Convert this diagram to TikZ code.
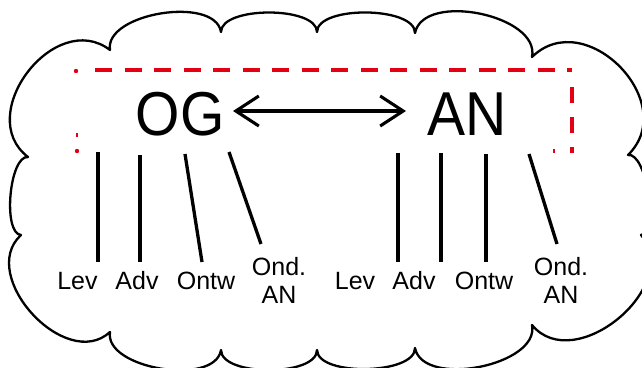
\documentclass[tikz,border=0pt]{standalone}
\usepackage{fontspec}
\setmainfont{Liberation Sans}
\usetikzlibrary{arrows.meta}
\definecolor{redd}{RGB}{228,0,18}
\begin{document}
\begin{tikzpicture}[x=1pt,y=-1pt,
  cloudline/.style={line width=2.3pt, line join=round},
  reddash/.style={draw=redd, line width=3.6pt, dash pattern=on 17pt off 12.5pt},
  conn/.style={line width=3.3pt},
  biglabel/.style={font=\fontsize{62}{64}\selectfont, inner sep=0pt, anchor=base},
  smalllabel/.style={font=\fontsize{25}{28}\selectfont, inner sep=0pt, anchor=base},
  twolabel/.style={font=\fontsize{25}{28}\selectfont, inner sep=0pt, anchor=north, align=center},
  dblarrow/.style={line width=3.1pt, {Straight Barb[length=23pt,width=30pt]}-{Straight Barb[length=23pt,width=30pt]}}
]
\useasboundingbox (0,0) rectangle (642,367);
% cloud
\draw[cloudline] (110,50)
 .. controls (104,13.2) and (215,-4.8) .. (221,32)
 .. controls (221,6) and (317,6) .. (317,32)
 .. controls (317.3,5.3) and (415.3,6.3) .. (415,33)
 .. controls (423.6,-8.8) and (540.6,15.2) .. (532,57)
 .. controls (585.3,4.7) and (681.3,102.7) .. (628,155)
 .. controls (646.4,152) and (659.4,232) .. (641,235)
 .. controls (683.4,286.4) and (574.4,376.4) .. (532,325)
 .. controls (540,365.5) and (423,388.5) .. (415,348)
 .. controls (415.5,374.7) and (317.5,376.7) .. (317,350)
 .. controls (317,376.7) and (221,376.7) .. (221,350)
 .. controls (215,386.8) and (104,368.8) .. (110,332)
 .. controls (65.8,372.6) and (-23.2,275.6) .. (21,235)
 .. controls (2.4,233.3) and (9.4,155.3) .. (28,157)
 .. controls (-27,114.9) and (55,7.9) .. (110,50)
 -- cycle;
% red dashed frame
\draw[reddash] (95,70) -- (572,70);
\draw[reddash, dash pattern=on 16pt off 14pt] (572,87) -- (572,153);
\fill[redd] (76,71) circle (2.2pt);
\fill[redd] (77,151) circle (2.2pt);
\draw[redd, line width=1.4pt] (77,133) -- (77,137);
\draw[redd, line width=1.4pt] (554,149) -- (554,153);
% main nodes
\node[biglabel] (og) at (180,135) {\scalebox{0.92}[1]{OG}};
\node[biglabel] (an) at (467,135) {\scalebox{0.92}[1]{AN}};
\coordinate (arL) at (233,111);
\coordinate (arR) at (406,111);
\draw[dblarrow] (arL) -- (arR);
% labels
\node[smalllabel] (l1) at (77.5,289.3) {Lev};
\node[smalllabel] (l2) at (137,289.3) {Adv};
\node[smalllabel] (l3) at (206,289.3) {Ontw};
\node[twolabel] (l4) at (279,257.5) {Ond.\\AN};
\node[smalllabel] (l5) at (355,289.3) {Lev};
\node[smalllabel] (l6) at (414,289.3) {Adv};
\node[smalllabel] (l7) at (484,289.3) {Ontw};
\node[twolabel] (l8) at (561,257.5) {Ond.\\AN};
% connector ends
\coordinate (t1) at (98,152);  \coordinate (b1) at (98,262);
\coordinate (t2) at (140,155); \coordinate (b2) at (140,262);
\coordinate (t3) at (185,154); \coordinate (b3) at (202,262);
\coordinate (t4) at (229,152); \coordinate (b4) at (261,244);
\coordinate (t5) at (398,153); \coordinate (b5) at (398,262);
\coordinate (t6) at (441,153); \coordinate (b6) at (441,262);
\coordinate (t7) at (486,154); \coordinate (b7) at (486,262);
\coordinate (t8) at (529,154); \coordinate (b8) at (557,244);
\foreach \i in {1,...,8} {\draw[conn] (t\i) -- (b\i);}
\end{tikzpicture}
\end{document}
